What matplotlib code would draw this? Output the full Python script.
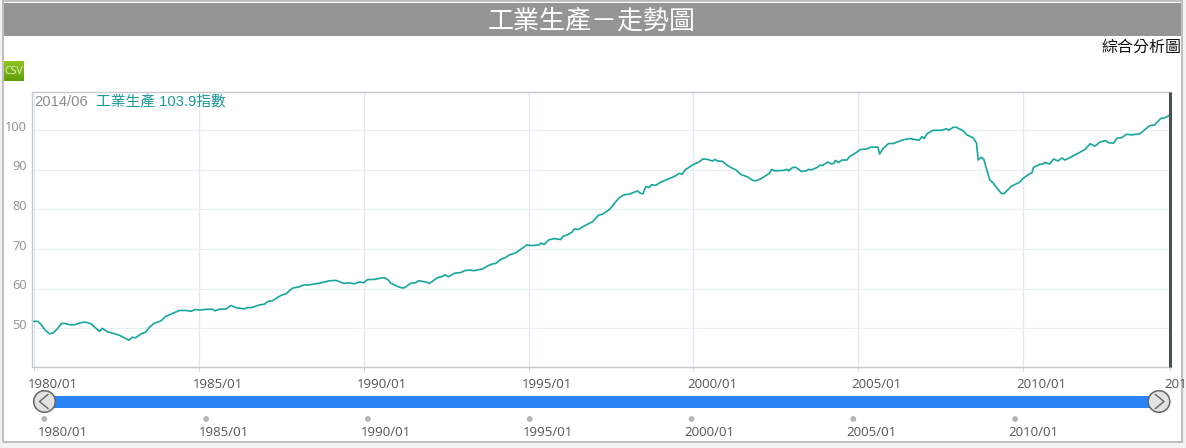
import matplotlib
matplotlib.use("Agg")
import matplotlib.pyplot as plt
from matplotlib.patches import Rectangle, Circle
from matplotlib.transforms import ScaledTranslation
from matplotlib.colors import LinearSegmentedColormap
import numpy as np

TITLE = "工業生產－走勢圖"
LINK = "綜合分析圖"
LEGEND_DATE = "2014/06"
LEGEND_SERIES = "工業生產 103.9指數"
Y_TICKS = [50, 60, 70, 80, 90, 100]
X_TICKS = [1980, 1985, 1990, 1995, 2000, 2005, 2010, 2014.47]
X_LABELS = ["1980/01", "1985/01", "1990/01", "1995/01", "2000/01", "2005/01", "2010/01", "201"]
NAV_LABELS = ["1980/01", "1985/01", "1990/01", "1995/01", "2000/01", "2005/01", "2010/01"]

years = [
    1980.0, 1980.12, 1980.22, 1980.32, 1980.47, 1980.58, 1980.73, 1980.83, 1980.93, 1981.08,
    1981.23, 1981.38, 1981.54, 1981.74, 1981.84, 1981.99, 1982.07, 1982.24, 1982.39, 1982.6,
    1982.88, 1982.98, 1983.08, 1983.25, 1983.4, 1983.5, 1983.66, 1983.86, 1983.99, 1984.21,
    1984.41, 1984.62, 1984.77, 1984.89, 1985.02, 1985.22, 1985.42, 1985.49, 1985.61, 1985.83,
    1985.97, 1986.13, 1986.38, 1986.48, 1986.59, 1986.84, 1986.99, 1987.09, 1987.24, 1987.49,
    1987.65, 1987.83, 1988.05, 1988.2, 1988.3, 1988.66, 1988.96, 1989.16, 1989.41, 1989.52,
    1989.72, 1989.87, 1990.0, 1990.12, 1990.32, 1990.48, 1990.63, 1990.73, 1990.83, 1990.98,
    1991.13, 1991.23, 1991.43, 1991.57, 1991.67, 1991.89, 1991.99, 1992.24, 1992.39, 1992.47,
    1992.57, 1992.75, 1992.95, 1993.08, 1993.22, 1993.35, 1993.61, 1993.76, 1993.91, 1994.01,
    1994.16, 1994.31, 1994.41, 1994.62, 1994.82, 1994.95, 1995.07, 1995.32, 1995.38, 1995.47,
    1995.61, 1995.78, 1995.98, 1996.05, 1996.18, 1996.33, 1996.39, 1996.52, 1996.69, 1996.94,
    1997.12, 1997.24, 1997.46, 1997.6, 1997.75, 1997.9, 1998.07, 1998.3, 1998.38, 1998.47,
    1998.56, 1998.66, 1998.73, 1998.86, 1999.01, 1999.21, 1999.41, 1999.57, 1999.67, 1999.75,
    2000.0, 2000.17, 2000.29, 2000.43, 2000.58, 2000.66, 2000.73, 2000.88, 2001.03, 2001.14,
    2001.29, 2001.44, 2001.64, 2001.8, 2001.9, 2002.05, 2002.3, 2002.38, 2002.48, 2002.76,
    2002.83, 2002.89, 2003.01, 2003.11, 2003.27, 2003.42, 2003.5, 2003.57, 2003.77, 2003.82,
    2003.92, 2004.08, 2004.18, 2004.26, 2004.31, 2004.4, 2004.51, 2004.66, 2004.74, 2004.89,
    2005.07, 2005.24, 2005.39, 2005.6, 2005.65, 2005.75, 2005.92, 2006.07, 2006.36, 2006.56,
    2006.85, 2006.94, 2007.0, 2007.09, 2007.27, 2007.53, 2007.68, 2007.75, 2007.88, 2007.98,
    2008.18, 2008.3, 2008.49, 2008.59, 2008.64, 2008.73, 2008.81, 2008.99, 2009.09, 2009.24,
    2009.34, 2009.42, 2009.51, 2009.65, 2009.9, 2010.0, 2010.2, 2010.27, 2010.32, 2010.51,
    2010.61, 2010.66, 2010.81, 2010.93, 2011.06, 2011.18, 2011.27, 2011.42, 2011.87, 2012.04,
    2012.18, 2012.33, 2012.5, 2012.6, 2012.75, 2012.85, 2013.0, 2013.14, 2013.29, 2013.54,
    2013.84, 2013.99, 2014.18, 2014.3, 2014.41,
]
values = [
    51.75, 51.75, 50.9, 49.7, 48.6, 48.8, 50.1, 51.2, 51.25, 50.9,
    50.9, 51.3, 51.6, 51.1, 50.3, 49.2, 50.0, 49.1, 48.75, 48.2,
    47.0, 47.75, 47.6, 48.6, 49.1, 50.3, 51.3, 51.9, 53.0, 53.8,
    54.5, 54.5, 54.3, 54.75, 54.6, 54.8, 54.8, 54.4, 54.8, 54.9,
    55.75, 55.2, 54.9, 55.25, 55.2, 55.9, 56.1, 56.75, 57.0, 58.3,
    58.75, 60.1, 60.5, 61.0, 60.9, 61.4, 62.0, 62.1, 61.3, 61.5,
    61.25, 61.7, 61.5, 62.3, 62.35, 62.6, 62.8, 62.3, 61.35, 60.75,
    60.25, 60.2, 61.4, 61.5, 62.0, 61.7, 61.3, 62.8, 63.1, 63.5,
    63.0, 63.9, 64.1, 64.6, 64.7, 64.55, 65.0, 65.75, 66.25, 66.4,
    67.4, 67.9, 68.5, 69.1, 70.3, 71.05, 70.9, 71.05, 71.55, 71.15,
    72.3, 72.65, 72.4, 73.25, 73.6, 74.35, 75.1, 74.95, 75.85, 76.9,
    78.55, 78.8, 80.0, 81.5, 82.95, 83.7, 83.9, 84.7, 84.15, 83.95,
    85.8, 85.55, 86.25, 86.1, 86.9, 87.6, 88.3, 89.1, 88.95, 90.0,
    91.35, 92.0, 92.75, 92.65, 92.25, 92.65, 92.25, 92.15, 91.15, 90.6,
    90.0, 88.85, 88.25, 87.35, 87.25, 87.75, 89.1, 90.1, 89.75, 89.9,
    90.15, 89.75, 90.6, 90.65, 89.65, 89.75, 90.15, 90.0, 90.65, 91.15,
    91.15, 92.0, 91.5, 91.65, 92.4, 91.85, 92.5, 92.5, 93.4, 94.1,
    95.15, 95.25, 95.75, 95.75, 94.0, 95.35, 96.65, 96.65, 97.6, 97.9,
    97.5, 98.4, 97.9, 99.15, 100.0, 100.0, 100.4, 100.0, 100.75, 100.75,
    99.9, 98.85, 98.1, 96.75, 92.5, 93.2, 92.7, 87.5, 86.75, 85.1,
    84.1, 84.0, 84.7, 85.9, 86.9, 87.85, 89.0, 89.25, 90.65, 91.4,
    91.5, 91.9, 91.5, 92.75, 92.25, 93.0, 92.5, 93.1, 95.1, 96.6,
    96.0, 97.0, 97.4, 96.85, 96.75, 98.0, 98.15, 99.0, 98.85, 99.1,
    101.15, 101.35, 103.0, 103.15, 103.65,
]
last_year = 2014.47
last_value = 103.9

W, H = 1186, 448
CJK = ["Noto Sans CJK TC", "DejaVu Sans"]
fig = plt.figure(figsize=(W / 100, H / 100), dpi=100, facecolor="#f2f2f2")

# page furniture, in pixel coordinates
bg = fig.add_axes([0, 0, 1, 1], zorder=0)
bg.set_xlim(0, W)
bg.set_ylim(H, 0)
bg.axis("off")
bg.add_patch(Rectangle((3, 1), 1179, 441.5, fc="white", ec="#b4b4b4", lw=1.2))
bg.add_patch(Rectangle((4, 3), 1177, 33.5, fc="#959596", ec="none"))
bg.text(592, 21, TITLE, color="white", fontsize=18.7, ha="center", va="center", family=CJK)
bg.text(1181, 47, LINK, color="#111111", fontsize=11.5, ha="right", va="center", family=CJK)
grad = LinearSegmentedColormap.from_list("g", ["#8fc31f", "#5f9e0a"])
bg.imshow(np.linspace(0, 1, 20)[:, None], extent=(4, 24, 81, 61), cmap=grad, aspect="auto", zorder=1)
bg.set_xlim(0, W)
bg.set_ylim(H, 0)
bg.text(14, 71.5, "CSV", color="#e8f5d0", fontsize=7.6, ha="center", va="center", family="Open Sans", zorder=2)

# navigator
bg.add_patch(Rectangle((50, 396.5), 1100, 11.5, fc="#2a84f5", ec="none"))
for cx, mark in ((44.5, "<"), (1159, ">")):
    bg.add_patch(Circle((cx, 401.5), 10.8, fc="#e2e2e2", ec="#666666", lw=1.1, zorder=3))
    sign = -1 if mark == "<" else 1
    bg.plot([cx - sign * 3.5, cx + sign * 5, cx - sign * 3.5], [394.5, 401.5, 408.5],
            color="#666666", lw=1, zorder=4)
for i, lab in enumerate(NAV_LABELS):
    dx = 44.3 + 161.8 * i
    bg.add_patch(Circle((dx, 419), 2.9, fc="#b5b5b5", ec="none"))
    bg.text(dx + 18, 432, lab, color="#555555", fontsize=9.5, ha="center", va="center", family="Open Sans")

# main chart
L, R, T, B = 32, 1171, 92.5, 367
ax = fig.add_axes([L / W, 1 - B / H, (R - L) / W, (B - T) / H], zorder=2)
ax.patch.set_alpha(0)
px_per_year = (1023 - 34) / 30
ax.set_xlim(1980 + (L - 34) / px_per_year, 1980 + (R - 34) / px_per_year)
ax.set_ylim(50 + (328.3 - B) / 3.96, 50 + (328.3 - T) / 3.96)

ax.plot(years + [last_year], values + [last_value], color="#17a69c", lw=1.2, zorder=3)
ax.vlines(last_year, *ax.get_ylim(), color="#4a5155", lw=2.2, zorder=4, clip_on=False)

ax.set_yticks(Y_TICKS)
ax.set_xticks(X_TICKS, X_LABELS)
ax.grid(axis="y", color="#e9f0f3", lw=0.9)
ax.grid(axis="x", color="#dcebf2", lw=0.9)
ax.set_axisbelow(True)
ax.spines["right"].set_visible(False)
for side in ("left", "top", "bottom"):
    ax.spines[side].set_color("#c4cace")
    ax.spines[side].set_linewidth(1.0)
ax.tick_params(axis="y", length=0, pad=4, labelsize=9.2, labelcolor="#8f8f8f")
ax.tick_params(axis="x", length=3, width=0.8, color="#c9d6dc", pad=5, labelsize=9.5, labelcolor="#555555")

xoff = ScaledTranslation(-6.5 / 100, 0, fig.dpi_scale_trans)
for lab in ax.get_xticklabels():
    lab.set_family("Open Sans")
    lab.set_ha("left")
    lab.set_transform(lab.get_transform() + xoff)
yoff = ScaledTranslation(0, 4.5 / 100, fig.dpi_scale_trans)
for lab in ax.get_yticklabels():
    lab.set_family("Open Sans")
    lab.set_transform(lab.get_transform() + yoff)

ax.text(34, 102.5, LEGEND_DATE, color="#8c8c8c", fontsize=10.6, ha="left", va="center",
        family="Liberation Sans", zorder=6, transform=bg.transData, clip_on=False)
ax.text(96, 102.5, LEGEND_SERIES, color="#1b9a9c", fontsize=10.6, ha="left", va="center",
        family=["Liberation Sans", "Noto Sans CJK TC"], zorder=6, transform=bg.transData, clip_on=False)

fig.savefig("out.png", dpi=100, facecolor=fig.get_facecolor())
